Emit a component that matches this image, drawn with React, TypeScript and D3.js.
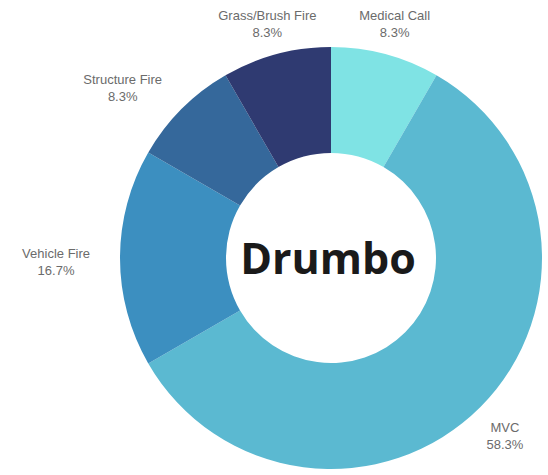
import React from "react";
import * as d3 from "d3";

const categories = ["Medical Call", "MVC", "Vehicle Fire", "Structure Fire", "Grass/Brush Fire"];
const counts = [1, 7, 2, 1, 1];
const percentLabels = ["8.3%", "58.3%", "16.7%", "8.3%", "8.3%"];
const colors = ["#7fe3e4", "#5bb9d1", "#3c8fc0", "#35689b", "#2f3a71"];
const centerTitle = "Drumbo";

const W = 548;
const H = 475;
const CX = 331;
const CY = 258;
const R_OUT = 211;
const R_IN = 105;
const LABEL_R = 246;
const LABEL_FONT = "13px 'Liberation Sans', Arial, sans-serif";

function measure(text: string): number {
  if (typeof document === "undefined") return text.length * 6.5;
  const c = document.createElement("canvas");
  const ctx = c.getContext("2d");
  if (!ctx) return text.length * 6.5;
  ctx.font = LABEL_FONT;
  return ctx.measureText(text).width;
}

export default function App() {
  const pie = d3.pie<number>().sort(null).value((d) => d)(counts);
  const arc = d3.arc<d3.PieArcDatum<number>>().innerRadius(R_IN).outerRadius(R_OUT);

  return (
    <svg
      width={W}
      height={H}
      style={{ position: "absolute", left: 0, top: 0, background: "#fff" }}
    >
      <g transform={`translate(${CX},${CY})`}>
        {pie.map((p, i) => (
          <path key={categories[i]} d={arc(p) || ""} fill={colors[i]} />
        ))}
        {pie.map((p, i) => {
          const mid = (p.startAngle + p.endAngle) / 2;
          const s = Math.sin(mid);
          const x0 = LABEL_R * s;
          const y0 = -LABEL_R * Math.cos(mid);
          const leftSide = s < -0.5;
          const w = Math.max(measure(categories[i]), measure(percentLabels[i]));
          const x = leftSide ? x0 + 5 - w / 2 : x0;
          return (
            <g key={"lab" + i} fontFamily="'Liberation Sans', Arial, sans-serif" fontSize={13} fill="#6b6b6b">
              <text x={x} y={y0} textAnchor="middle">{categories[i]}</text>
              <text x={x} y={y0 + 17} textAnchor="middle">{percentLabels[i]}</text>
            </g>
          );
        })}
        <text
          x={-3}
          y={16}
          textAnchor="middle"
          fontFamily="'Open Sans', 'Noto Sans', sans-serif"
          fontWeight={700}
          fontSize={43}
          fill="#1a1a1a"
        >
          {centerTitle}
        </text>
      </g>
    </svg>
  );
}
